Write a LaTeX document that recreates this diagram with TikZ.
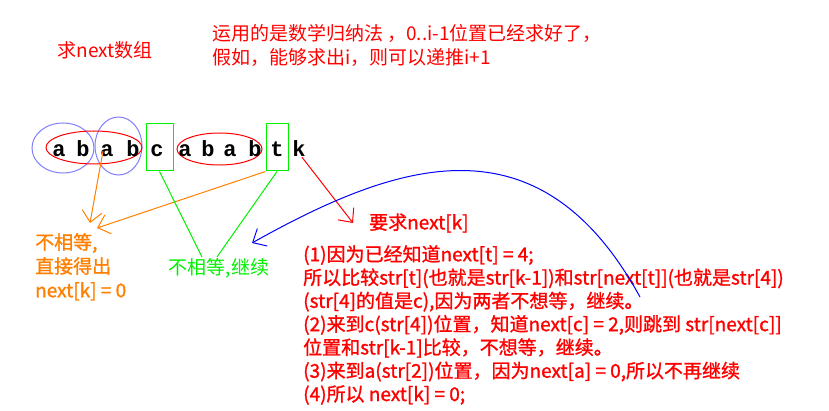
\documentclass[tikz,border=0pt]{standalone}
\usepackage{fontspec}
\setmainfont{Noto Sans CJK SC}
\newfontfamily\cjk{Noto Sans CJK SC}
\newfontfamily\cjkb{Noto Sans CJK SC}[FakeBold=1.2]
\newfontfamily\monof{Liberation Mono}
\usetikzlibrary{shapes.geometric,arrows.meta}
\definecolor{rred}{RGB}{255,0,0}
\definecolor{oorange}{RGB}{255,128,0}
\definecolor{ggreen}{RGB}{0,240,0}
\definecolor{lblue}{RGB}{128,128,255}
\definecolor{bblue}{RGB}{0,0,255}
\tikzset{
  ch/.style={font=\monof\bfseries\fontsize{22}{22}\selectfont, anchor=base, inner sep=0pt},
  oval/.style={draw, ellipse, line width=1pt, inner sep=0pt},
  gbox/.style={draw=ggreen, rectangle, line width=1pt, inner sep=0pt},
  txt/.style={font=\cjk\fontsize{19}{24}\selectfont, inner sep=0pt},
  btxt/.style={font=\cjkb\fontsize{19}{23.3}\selectfont, inner sep=0pt},
  conn/.style={line width=1pt},
  barb/.style={-{Straight Barb[length=11pt,width=20pt,line width=1pt]}}
}
\begin{document}
\begin{tikzpicture}[x=1pt,y=-1pt]
\useasboundingbox (0,0) rectangle (829,411);
\fill[white] (0,0) rectangle (829,411);

% titles
\node[txt, text=rred] (title) at (105,50) {求next数组};
\node[txt, text=rred, align=left, anchor=west] (intro) at (212,45)
  {运用的是数学归纳法 ，0..i-1位置已经求好了，\\假如，能够求出i，则可以递推i+1};

% shapes around the letters
\node[oval, draw=lblue, minimum width=62pt, minimum height=50pt] (b1) at (63,148) {};
\node[oval, draw=lblue, minimum width=47pt, minimum height=58pt] (b2) at (118.5,146) {};
\node[oval, draw=rred, minimum width=96pt, minimum height=33pt] (e1) at (94,147.5) {};
\node[oval, draw=rred, minimum width=85pt, minimum height=32pt] (e2) at (219.5,149) {};
\node[gbox, minimum width=27pt, minimum height=47pt] (g1) at (159.5,147.5) {};
\node[gbox, minimum width=22pt, minimum height=47pt] (g2) at (277,147.5) {};

% letters
\foreach \x/\c/\n in {59/a/c1, 83/b/c2, 107/a/c3, 133/b/c4, 157/c/c5, 185/a/c6,
                      208/b/c7, 230/a/c8, 255/b/c9, 277/t/c10, 299/k/c11}
  \node[ch] (\n) at (\x,157) {\c};

% labels
\node[txt, text=oorange, align=left, anchor=north west, font=\cjkb\fontsize{19}{24}\selectfont] (ot) at (35,233)
  {不相等,\\直接得出\\next[k] = 0};
\node[txt, text=ggreen] (gt) at (219,268) {不相等,继续};
\node[btxt, text=rred, anchor=west] (rk) at (369,223) {要求next[k]};
\node[btxt, text=rred, align=left, anchor=north west] (ex) at (303,245)
  {(1)因为已经知道next[t] = 4;\\
   所以比较str[t](也就是str[k-1])和str[next[t]](也就是str[4])\\
   (str[4]的值是c),因为两者不想等，继续。\\
   (2)来到c(str[4])位置，知道next[c] = 2,则跳到 str[next[c]]\\
   位置和str[k-1]比较，不想等，继续。\\
   (3)来到a(str[2])位置，因为next[a] = 0,所以不再继续\\
   (4)所以 next[k] = 0;};

% free ends
\coordinate (oa) at (90,223);
\coordinate (ob) at (97,228);
\coordinate (ga) at (202,257);
\coordinate (gb) at (217,257);
\coordinate (ra) at (353,223);
\coordinate (bs) at (640,297);
\coordinate (be) at (252,243);

% connectors
\draw[conn, oorange, barb] ([xshift=-4pt]c3.center) -- (oa);
\draw[conn, oorange, barb] (g2.south west) -- (ob);
\draw[conn, ggreen] (g1.south) -- (ga);
\draw[conn, ggreen] (g2.south) -- (gb);
\draw[conn, rred, barb] ([xshift=3pt]c11.south) -- (ra);
\draw[conn, bblue, barb] (bs) .. controls (540,115) and (400,160) .. (be);
\end{tikzpicture}
\end{document}
